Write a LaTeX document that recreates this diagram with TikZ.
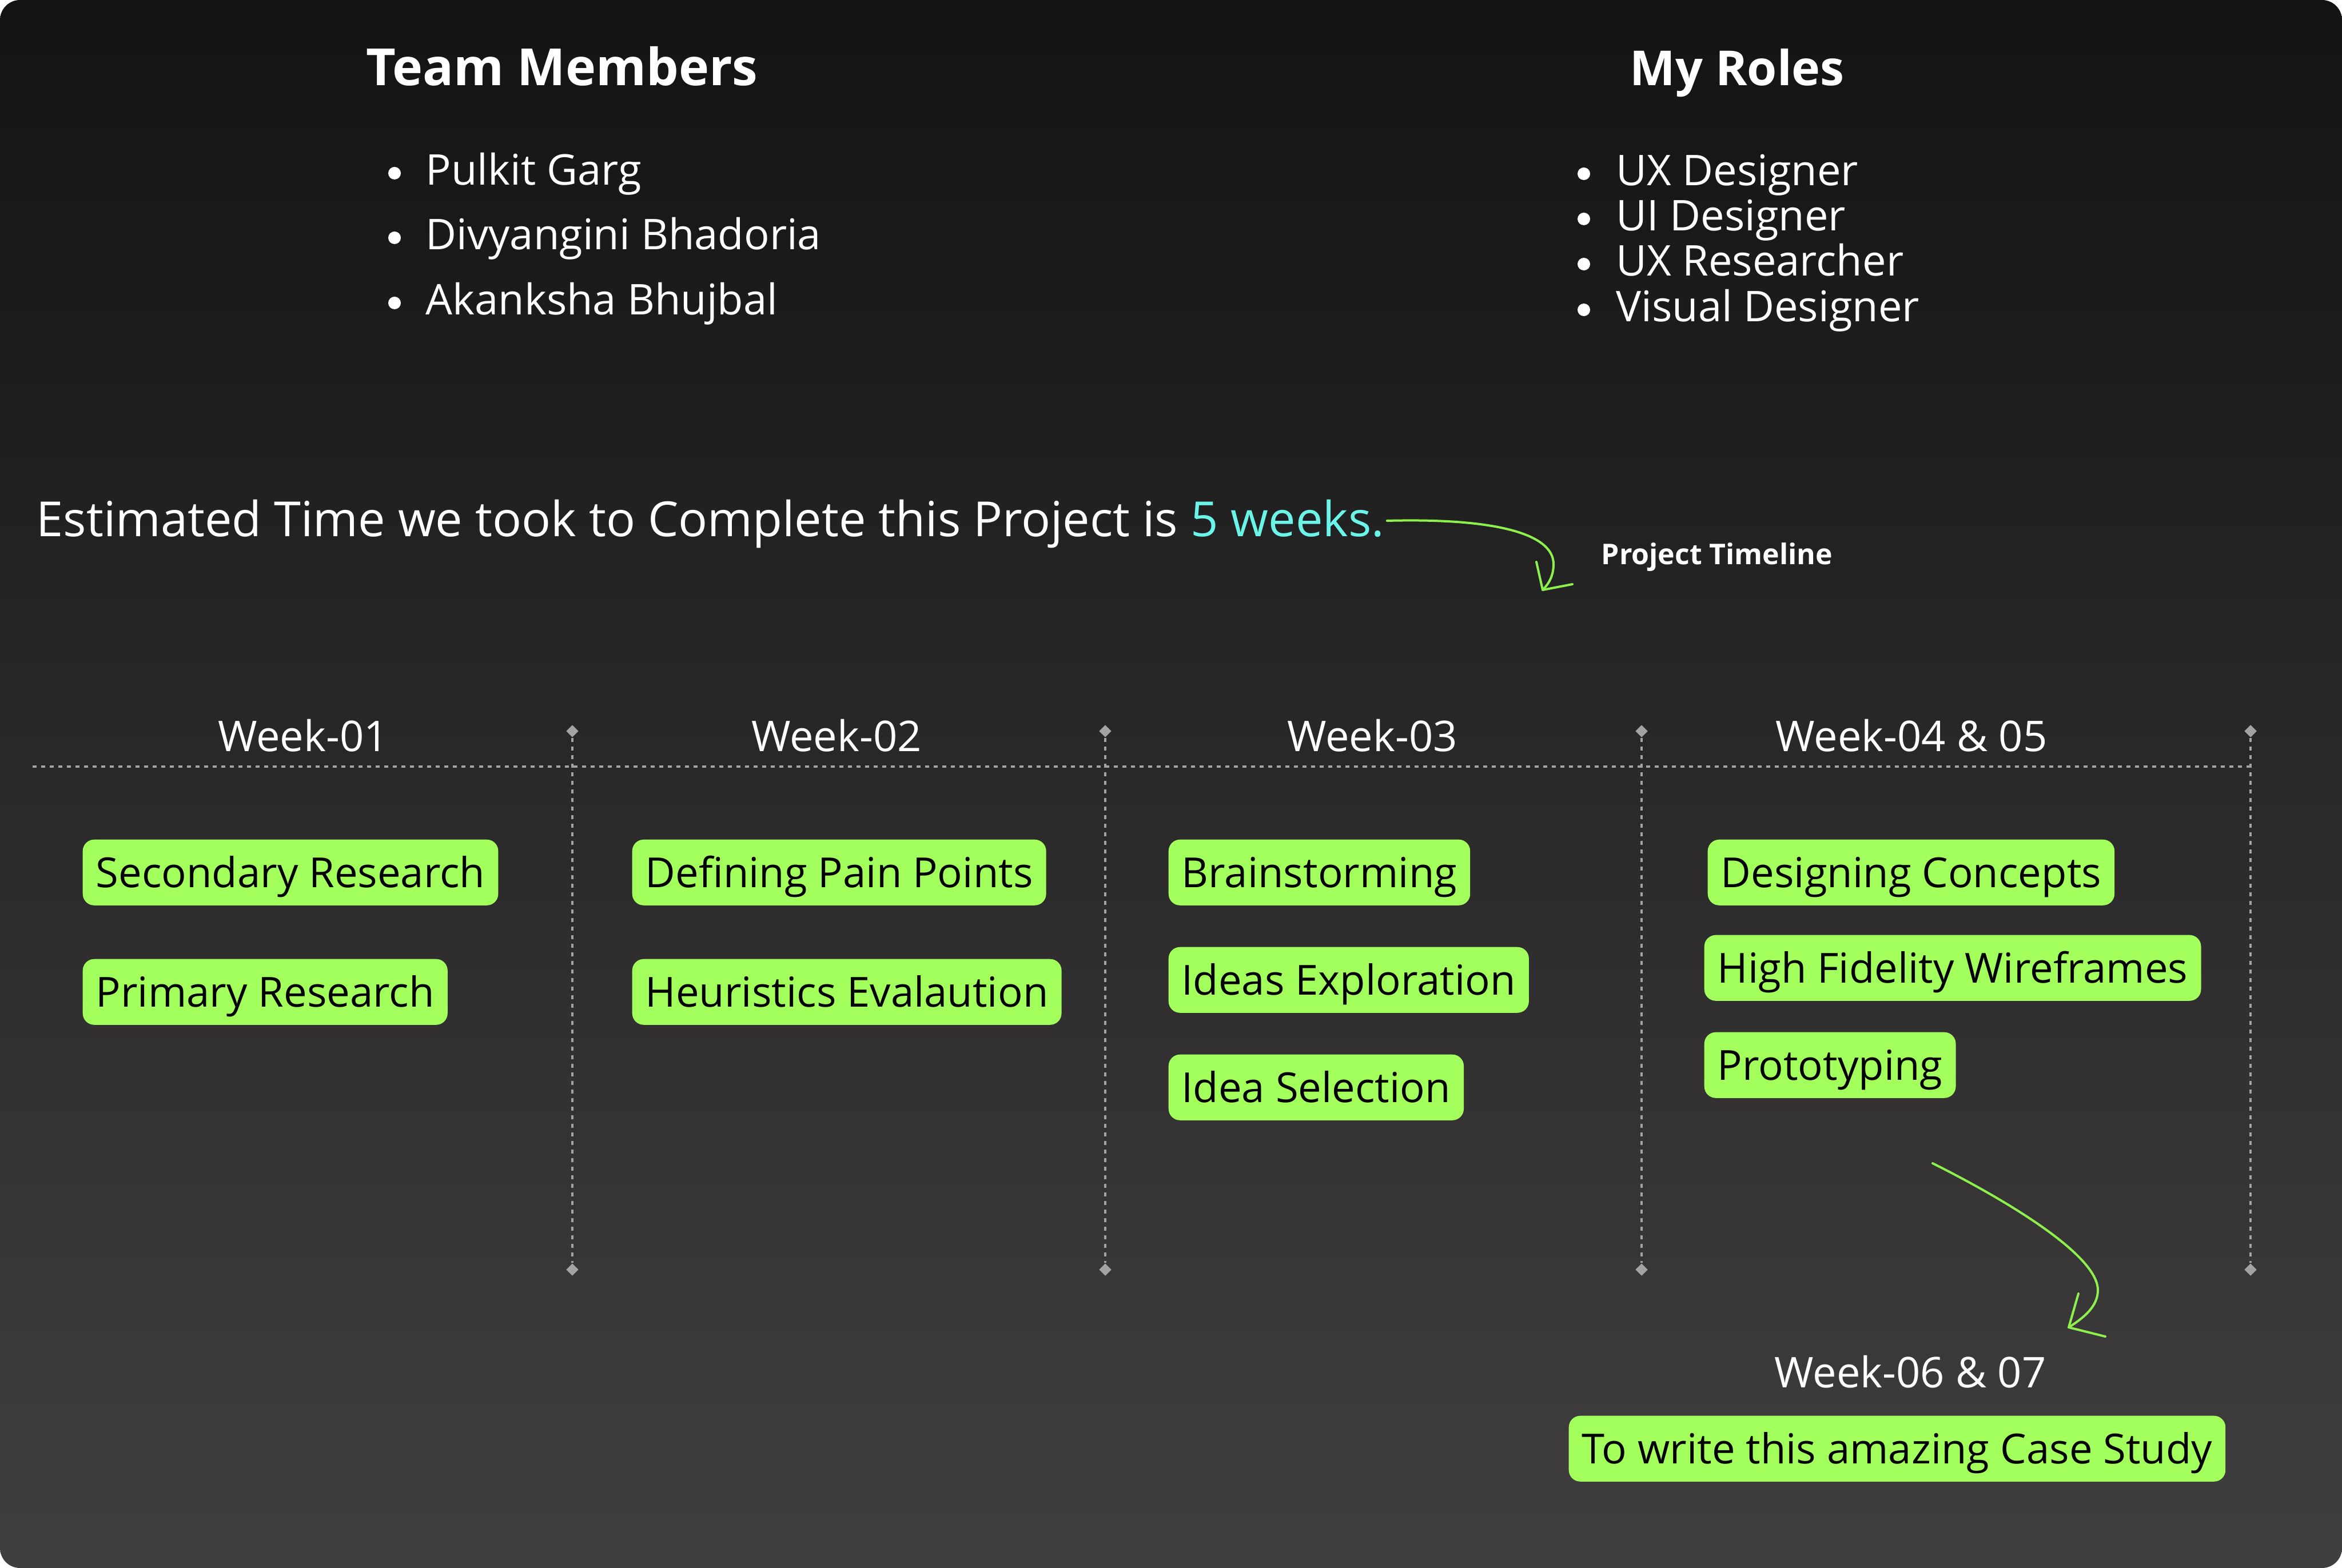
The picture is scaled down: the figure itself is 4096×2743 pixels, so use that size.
\documentclass[tikz,border=0pt]{standalone}
\usepackage{fontspec}
\setmainfont{Open Sans}
\usetikzlibrary{shapes.geometric}
\definecolor{bgtop}{HTML}{131313}
\definecolor{bgbot}{HTML}{413E3F}
\definecolor{boxgreen}{HTML}{A2FF5C}
\definecolor{arrowgreen}{HTML}{8EF04C}
\definecolor{weekcol}{HTML}{6AF5E8}
\definecolor{dashgray}{HTML}{A3A3A3}
\tikzset{
  task/.style={fill=boxgreen, rounded corners=0.2cm, anchor=north west,
    inner xsep=0.23cm, inner ysep=0pt, minimum height=1.15cm,
    text height=14.7pt, text depth=0pt, text=black,
    font=\fontsize{20.6pt}{25pt}\selectfont},
  body/.style={anchor=base west, text=white, inner sep=0pt,
    font=\fontsize{21.06pt}{25pt}\selectfont},
  title/.style={anchor=base west, text=white, inner sep=0pt,
    font=\fontsize{25.5pt}{30pt}\selectfont\bfseries},
  weeklabel/.style={anchor=base, text=white, inner sep=0pt,
    font=\fontsize{21.06pt}{25pt}\selectfont},
  sentence/.style={anchor=base west, inner sep=0pt,
    font=\fontsize{24.08pt}{29pt}\selectfont},
  dot/.style={circle, fill=white, inner sep=0pt, minimum size=0.22cm},
  dia/.style={diamond, fill=dashgray, inner sep=0pt, minimum width=0.22cm, minimum height=0.22cm},
  dline/.style={draw=dashgray, line width=0.04cm, dash pattern=on 0.07cm off 0.08cm},
  curvy/.style={draw=arrowgreen, line width=0.04cm, line cap=round, line join=round}
}
\begin{document}
\begin{tikzpicture}[x=0.01cm, y=-0.01cm]
\useasboundingbox (0,0) rectangle (4096,2743);
\fill[white] (0,0) rectangle (4096,2743);
\shade[top color=bgtop, bottom color=bgbot, rounded corners=0.35cm] (0,0) rectangle (4096,2743);

% Team members
\node[title] (team) at (640,150) {Team Members};
\node[dot] (d1) at (690,303) {};
\node[body] (m1) at (744,324) {Pulkit Garg};
\node[dot] (d2) at (690,416) {};
\node[body] (m2) at (744,437) {Divyangini Bhadoria};
\node[dot] (d3) at (690,530) {};
\node[body] (m3) at (744,551) {Akanksha Bhujbal};

% Roles
\node[title, font=\fontsize{24pt}{29pt}\selectfont\bfseries] (roles) at (2850,150) {My Roles};
\node[dot] (r1d) at (2770,304) {};
\node[body] (r1) at (2826,325) {UX Designer};
\node[dot] (r2d) at (2770,383) {};
\node[body] (r2) at (2826,404) {UI Designer};
\node[dot] (r3d) at (2770,462) {};
\node[body] (r3) at (2826,483) {UX Researcher};
\node[dot] (r4d) at (2770,542) {};
\node[body] (r4) at (2826,563) {Visual Designer};

% Estimate sentence
\node[sentence, text=white] (est) at (63,939)
  {Estimated Time we took to Complete this Project is \textcolor{weekcol}{5 weeks.}};
\node[anchor=base west, text=white, inner sep=0pt, font=\fontsize{14.2pt}{17pt}\selectfont\bfseries] (ptl) at (2800,987) {Project Timeline};

\coordinate (a1s) at ([xshift=0.04cm, yshift=0.28cm]est.base east);
\coordinate (a1m) at (2717,987);
\coordinate (a1t) at (2698,1032);
\coordinate (a1l) at (2687,983);
\coordinate (a1r) at (2750,1022);
\draw[curvy] (a1s) .. controls (2620,906) and (2717,935) .. (a1m)
  .. controls (2717,1008) and (2708,1022) .. (a1t);
\draw[curvy] (a1l) -- (a1t) -- (a1r);

% Timeline grid
\node[dia] (t1) at (1001,1279) {};
\node[dia] (t2) at (1933,1279) {};
\node[dia] (t3) at (2871,1279) {};
\node[dia] (t4) at (3936,1279) {};
\node[dia] (b1) at (1001,2221) {};
\node[dia] (b2) at (1933,2221) {};
\node[dia] (b3) at (2871,2221) {};
\node[dia] (b4) at (3936,2221) {};
\coordinate (hl) at (57,1341);
\coordinate (hr) at (3936,1341);
\draw[dline] (hl) -- (hr);
\draw[dline] (t1) -- (b1);
\draw[dline] (t2) -- (b2);
\draw[dline] (t3) -- (b3);
\draw[dline] (t4) -- (b4);

\node[weeklabel] (w1) at (530,1314) {Week-01};
\node[weeklabel] (w2) at (1463,1314) {Week-02};
\node[weeklabel] (w3) at (2400,1314) {Week-03};
\node[weeklabel] (w4) at (3343,1314) {Week-04 \& 05};

% Tasks
\node[task] (s1) at (144,1468) {Secondary Research};
\node[task] (s2) at (144,1677) {Primary Research};
\node[task] (s3) at (1105,1468) {Defining Pain Points};
\node[task] (s4) at (1105,1677) {Heuristics Evalaution};
\node[task] (s5) at (2043,1468) {Brainstorming};
\node[task] (s6) at (2043,1656) {Ideas Exploration};
\node[task] (s7) at (2043,1844) {Idea Selection};
\node[task] (s8) at (2986,1468) {Designing Concepts};
\node[task] (s9) at (2980,1635) {High Fidelity Wireframes};
\node[task] (s10) at (2980,1805) {Prototyping};

% Bottom arrow
\coordinate (a2s) at (3380,2035);
\coordinate (a2m) at (3669,2257);
\coordinate (a2t) at (3618,2322);
\coordinate (a2l) at (3635,2263);
\coordinate (a2r) at (3682,2338);
\draw[curvy] (a2s) .. controls (3480,2085) and (3669,2190) .. (a2m)
  .. controls (3669,2285) and (3645,2305) .. (a2t);
\draw[curvy] (a2l) -- (a2t) -- (a2r);

\node[weeklabel] (w6) at (3341,2427) {Week-06 \& 07};
\node[task] (s11) at (2743,2476) {To write this amazing Case Study};
\end{tikzpicture}
\end{document}
